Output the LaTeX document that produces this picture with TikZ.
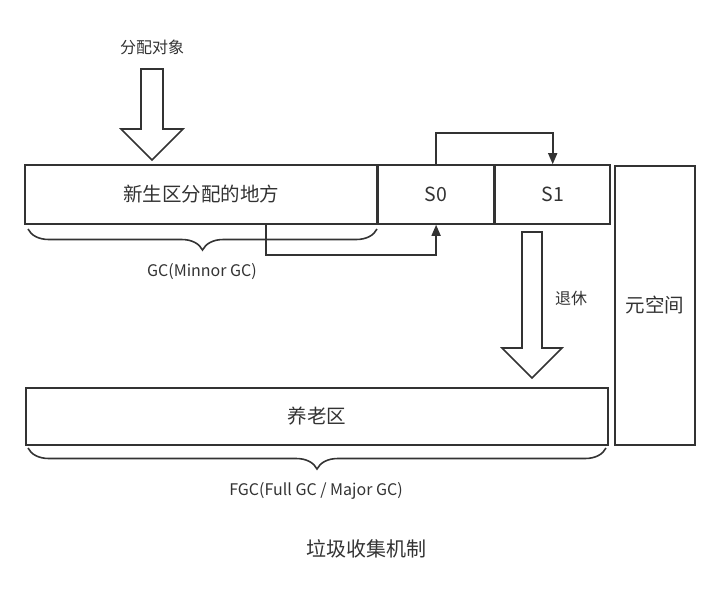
\documentclass[tikz,border=0pt]{standalone}
\usepackage{fontspec}
\setmainfont{Noto Sans CJK SC}
\usepackage{xcolor}
\usetikzlibrary{arrows.meta,positioning,decorations.pathreplacing,calc}
\definecolor{ink}{HTML}{333333}
\tikzset{
  box/.style={draw=ink,line width=1.6pt,inner sep=0pt,minimum height=59pt,text=ink,font=\fontsize{19.5}{22}\selectfont},
  label/.style={text=ink,inner sep=0pt,font=\fontsize{16}{19}\selectfont},
  flow/.style={draw=ink,line width=1.6pt,-{Triangle[length=11pt,width=9pt]}},
  fat/.style={draw=ink,line width=1.6pt,fill=white,line join=miter},
  brace/.style={draw=ink,line width=1.6pt,decorate,decoration={brace,mirror,amplitude=21pt,aspect=0.5}}
}
\begin{document}
\begin{tikzpicture}[x=1pt,y=-1pt]
        \useasboundingbox (0,0) rectangle (718,590);

        % regions of the heap
        \node[box,minimum width=352pt] (young) at (201,194.5) {新生区分配的地方};
        \node[box,minimum width=115pt,anchor=north west] (s0) at (young.north east) {S0};
        \node[box,minimum width=115pt,anchor=north west] (s1) at (s0.north east) {S1};
        \node[box,minimum width=80pt,minimum height=279pt,anchor=north west] (meta) at (614,165) {元空间};
        \node[box,minimum width=582pt,minimum height=57pt,anchor=north west] (old) at (25,387) {养老区};

        % block arrows
        \node[label] (alloc) at (152,47) {分配对象};
        \draw[fat] (141,69) -- (163,69) -- (163,129) -- (183,129) -- (152,160)
                   -- (121,129) -- (141,129) -- cycle;
        \draw[fat] (522,232) -- (542,232) -- (542,348) -- (562,348) -- (532,378)
                   -- (502,348) -- (522,348) -- cycle;
        \node[label] (retire) at (571,298) {退休};

        % survivor copies
        \draw[flow] ([xshift=65pt]young.south) -- ++(0,30) -| (s0.south);
        \draw[flow] (s0.north) -- ++(0,-31) -| (s1.north);

        % collection ranges
        \draw[brace] (28,229) -- (377,229) node[midway] (minor) {};
        \node[label] (gc) at (202,272) {GC(Minnor GC)};
        \draw[brace] (28,448) -- (606,448) node[midway] (major) {};
        \node[label] (fgc) at (316,491) {FGC(Full GC / Major GC)};

        \node[label,font=\fontsize{20}{22}\selectfont] (title) at (366,549) {垃圾收集机制};
      \end{tikzpicture}
\end{document}
